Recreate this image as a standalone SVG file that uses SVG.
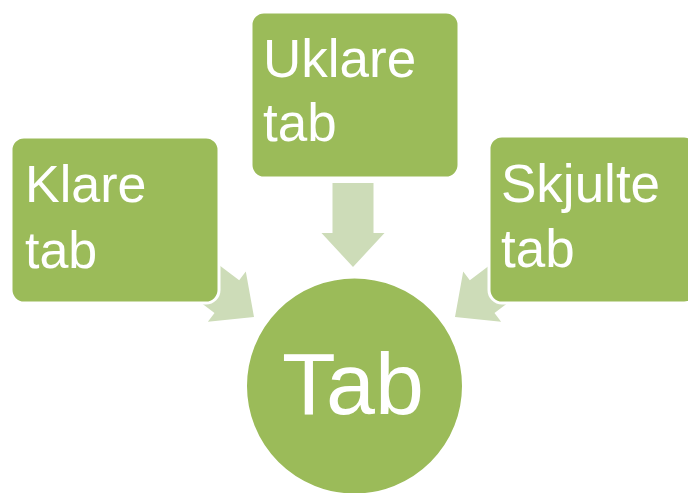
<svg xmlns="http://www.w3.org/2000/svg" width="688" height="493" viewBox="0 0 688 493">
  <style>
    .node { fill: #9bbb59; stroke: #ffffff; stroke-width: 3; }
    .arrow { fill: #cddcb8; stroke: none; }
    .label { font-family: "Liberation Sans", Arial, sans-serif; fill: #ffffff; }
  </style>
  <defs>
    <path id="arr" d="M -20.5 -84 L 20.5 -84 L 20.5 -34 L 31.5 -34 L 0 0 L -31.5 -34 L -20.5 -34 Z"/>
  </defs>
  <rect width="688" height="493" fill="#ffffff"/>
  <g id="connectors">
    <use href="#arr" class="arrow" transform="translate(353,267)"/>
    <use href="#arr" class="arrow" transform="translate(254,317) rotate(-53)"/>
    <use href="#arr" class="arrow" transform="translate(455,317) rotate(53)"/>
  </g>
  <g id="klare">
    <rect class="node" x="11" y="137" width="208" height="166" rx="13"/>
    <text class="label" x="25" y="202" font-size="52">Klare</text>
    <text class="label" x="25" y="268" font-size="52">tab</text>
  </g>
  <g id="uklare">
    <rect class="node" x="251" y="12" width="208" height="166" rx="13"/>
    <text class="label" x="263" y="77" font-size="53">Uklare</text>
    <text class="label" x="263" y="141" font-size="53">tab</text>
  </g>
  <g id="skjulte">
    <rect class="node" x="489" y="136" width="208" height="167" rx="13"/>
    <text class="label" x="501" y="202" font-size="53">Skjulte</text>
    <text class="label" x="501" y="267" font-size="53">tab</text>
  </g>
  <g id="tab">
    <circle class="node" cx="354.5" cy="386" r="109"/>
    <text class="label" x="353" y="414" font-size="88" text-anchor="middle">Tab</text>
  </g>
</svg>
